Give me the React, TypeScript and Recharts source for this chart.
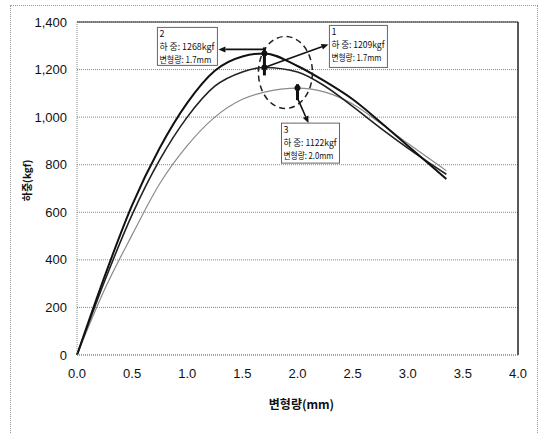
import React from 'react';
import { LineChart, Line, XAxis, YAxis, CartesianGrid, ReferenceLine, ReferenceDot } from 'recharts';

// displacement (mm) and load (kgf) for the three specimens
const disp = [0, 0.25, 0.5, 0.75, 1.0, 1.25, 1.5, 1.7, 2.0, 2.25, 2.5, 2.75, 3.0, 3.35];
const load1 = [0, 310, 590, 820, 1000, 1130, 1190, 1209, 1190, 1130, 1045, 955, 870, 760];
const load2 = [0, 330, 630, 870, 1060, 1195, 1255, 1268, 1215, 1150, 1075, 980, 880, 740];
const load3 = [0, 275, 505, 720, 880, 1000, 1075, 1105, 1122, 1105, 1055, 975, 890, 775];

const xTicks = [0, 0.5, 1, 1.5, 2, 2.5, 3, 3.5, 4];
const yTicks = [0, 200, 400, 600, 800, 1000, 1200, 1400];

// peak annotations
const peakIds = ['1', '2', '3'];
const peakDisp = [1.7, 1.7, 2.0];
const peakLoad = [1209, 1268, 1122];

const data = disp.map((d, i) => ({ disp: d, s1: load1[i], s2: load2[i], s3: load3[i] }));

const KR = '"Noto Sans CJK KR", "Noto Sans", sans-serif';
const tickStyle = { fontSize: 13, fill: '#111', fontFamily: '"Liberation Sans", Arial, sans-serif' };

function Arrow({ x1, y1, x2, y2 }: { x1: number; y1: number; x2: number; y2: number }) {
  const a = Math.atan2(y2 - y1, x2 - x1);
  const len = 7;
  const w = 3;
  const bx = x2 - len * Math.cos(a);
  const by = y2 - len * Math.sin(a);
  const px = -Math.sin(a) * w;
  const py = Math.cos(a) * w;
  return (
    <g>
      <line x1={x1} y1={y1} x2={bx} y2={by} stroke="#111" strokeWidth={1.6} />
      <polygon points={`${x2},${y2} ${bx + px},${by + py} ${bx - px},${by - py}`} fill="#111" />
    </g>
  );
}

function NoteBox({ x, y, w, h, id, load, d }: any) {
  return (
    <g fontFamily={KR} fontSize={9} fill="#111">
      <rect x={x} y={y} width={w} height={h} fill="#fff" stroke="#666" strokeWidth={1} />
      <text x={x + 2} y={y + 10}>{id}</text>
      <text x={x + 2} y={y + 23} textLength={w - 5} lengthAdjust="spacingAndGlyphs">{`하 중: ${load}kgf`}</text>
      <text x={x + 2} y={y + 36} textLength={w - 8} lengthAdjust="spacingAndGlyphs">{`변형량: ${d.toFixed(1)}mm`}</text>
    </g>
  );
}

// each annotation is drawn relative to its peak point
const makeShape = (i: number) => (props: any) => {
  const { cx, cy } = props;
  const id = peakIds[i];
  const load = peakLoad[i];
  const d = peakDisp[i];
  if (i === 0) {
    return (
      <g>
        <ellipse cx={cx + 21} cy={cy + 5} rx={27} ry={36} fill="none" stroke="#222" strokeWidth={1.5} strokeDasharray="6 4" />
        <circle cx={cx} cy={cy} r={3} fill="#111" />
        <Arrow x1={cx} y1={cy} x2={cx + 64} y2={cy - 23} />
        <NoteBox x={cx + 65} y={cy - 42} w={58} h={42} id={id} load={load} d={d} />
      </g>
    );
  }
  if (i === 1) {
    return (
      <g>
        <line x1={cx} y1={cy - 6} x2={cx} y2={cy + 22} stroke="#111" strokeWidth={3} />
        <circle cx={cx} cy={cy} r={3} fill="#111" />
        <Arrow x1={cx} y1={cy - 4} x2={cx - 46} y2={cy - 4} />
        <NoteBox x={cx - 107} y={cy - 26} w={60} h={38} id={id} load={load} d={d} />
      </g>
    );
  }
  return (
    <g>
      <line x1={cx} y1={cy - 4} x2={cx} y2={cy + 12} stroke="#111" strokeWidth={3} />
      <circle cx={cx} cy={cy} r={3} fill="#111" />
      <Arrow x1={cx} y1={cy + 10} x2={cx + 11} y2={cy + 35} />
      <NoteBox x={cx - 16} y={cy + 35} w={58} h={40} id={id} load={load} d={d} />
    </g>
  );
};

const YTitle = (props: any) => {
  const { viewBox } = props;
  const x = viewBox.x + 26;
  const y = viewBox.y + viewBox.height / 2 - 8;
  return (
    <text x={x} y={y} transform={`rotate(-90 ${x} ${y})`} textAnchor="middle" dominantBaseline="central"
      fontFamily={KR} fontSize={10} fontWeight="bold" fill="#111">
      하중(kgf)
    </text>
  );
};

const XTitle = (props: any) => {
  const { viewBox } = props;
  const x = viewBox.x + viewBox.width / 2 + 4;
  const y = viewBox.y + 48;
  return (
    <text x={x} y={y} textAnchor="middle" dominantBaseline="central" fontFamily={KR} fontSize={12} fontWeight="bold" fill="#111">
      변형량(mm)
    </text>
  );
};

export default function App() {
  return (
    <div style={{ position: 'absolute', left: 0, top: 0, width: 544, height: 434, overflow: 'hidden', background: '#fff' }}>
      <div style={{ position: 'absolute', left: 10, top: 5, width: 526, height: 440, border: '1px dotted #999' }} />
      <div style={{ position: 'absolute', left: 0, top: 0 }}>
        <LineChart width={544} height={434} data={data} margin={{ top: 22, right: 26, left: 0, bottom: 0 }}>
          <CartesianGrid vertical={false} stroke="#888" strokeDasharray="1 1" />
          <XAxis
            dataKey="disp"
            type="number"
            domain={[0, 4]}
            ticks={xTicks}
            tickFormatter={(v: number) => v.toFixed(1)}
            tick={tickStyle}
            tickLine={false}
            tickSize={6}
            tickMargin={8}
            height={79}
            axisLine={{ stroke: '#888', strokeDasharray: '1 1' }}
            label={<XTitle />}
          />
          <YAxis
            type="number"
            domain={[0, 1400]}
            ticks={yTicks}
            tickFormatter={(v: number) => v.toLocaleString('en-US')}
            tick={tickStyle}
            tickLine={false}
            tickSize={6}
            tickMargin={4}
            width={77}
            axisLine={{ stroke: '#888', strokeDasharray: '1 1' }}
            label={<YTitle />}
          />
          <ReferenceLine y={1400} stroke="#222" strokeWidth={1.2} />
          <ReferenceLine x={4} stroke="#222" strokeWidth={1.5} />
          <Line type="monotone" dataKey="s3" stroke="#8a8a8a" strokeWidth={1.2} dot={false} isAnimationActive={false} />
          <Line type="monotone" dataKey="s1" stroke="#222" strokeWidth={1.6} dot={false} isAnimationActive={false} />
          <Line type="monotone" dataKey="s2" stroke="#111" strokeWidth={2} dot={false} isAnimationActive={false} />
          {peakIds.map((id, i) => (
            <ReferenceDot key={id} x={peakDisp[i]} y={peakLoad[i]} r={3} shape={makeShape(i)} />
          ))}
        </LineChart>
      </div>
    </div>
  );
}
